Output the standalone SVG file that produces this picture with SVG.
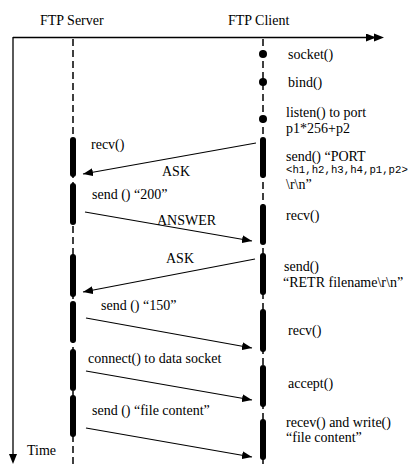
<svg xmlns="http://www.w3.org/2000/svg" width="418" height="470" viewBox="0 0 418 470">
<defs>
<marker id="ah" viewBox="0 0 10 8" refX="10" refY="4" markerWidth="10" markerHeight="8" markerUnits="userSpaceOnUse" orient="auto">
<path d="M0,0 L10,4 L0,8 Z" fill="#000"/>
</marker>
<style>
text{font-family:"Liberation Serif","Times New Roman",serif;font-size:14px;fill:#000;dominant-baseline:central}
.mono{font-family:"Liberation Mono","Courier New",monospace;font-size:10.7px}
.axis{stroke:#000;stroke-width:1.3;fill:none}
.life{stroke:#000;stroke-width:1.5;stroke-dasharray:7 4;fill:none}
.bar{fill:#000}
.msg{stroke:#000;stroke-width:1.1;fill:none;marker-end:url(#ah)}
</style>
</defs>
<rect width="418" height="470" fill="#fff"/>
<g id="axes">
<line class="axis" x1="13" y1="37.5" x2="376" y2="37.5" marker-end="url(#ah)"/>
<line class="axis" x1="13" y1="37" x2="13" y2="455"/>
<path d="M9,454 L13,464 L17,454 Z" fill="#000"/>
<path d="M374,33.5 L384,37.5 L374,41.5 Z" fill="#000"/>
<text x="27" y="450">Time</text>
</g>
<g id="server">
<text x="40" y="20">FTP Server</text>
<line class="life" x1="73" y1="39" x2="73" y2="464"/>
<rect class="bar" x="70" y="137" width="6" height="40" rx="3"/>
<rect class="bar" x="70" y="183" width="6" height="42" rx="3"/>
<rect class="bar" x="70" y="254" width="6" height="43" rx="3"/>
<rect class="bar" x="70" y="301" width="6" height="42" rx="3"/>
<rect class="bar" x="70" y="349" width="6" height="42" rx="3"/>
<rect class="bar" x="70" y="395" width="6" height="42" rx="3"/>
<text x="91" y="144">recv()</text>
<text x="92" y="194">send () “200”</text>
<text x="101" y="305">send () “150”</text>
<text x="88" y="358">connect() to data socket</text>
<text x="92" y="410">send () “file content”</text>
</g>
<g id="client">
<text x="228" y="20">FTP Client</text>
<line class="life" x1="263" y1="39" x2="263" y2="464"/>
<circle cx="263" cy="54" r="4"/>
<circle cx="263" cy="82" r="4"/>
<circle cx="263" cy="119" r="4"/>
<rect class="bar" x="260" y="137" width="6" height="41" rx="3"/>
<rect class="bar" x="260" y="204" width="6" height="41" rx="3"/>
<rect class="bar" x="260" y="253" width="6" height="42" rx="3"/>
<rect class="bar" x="260" y="309" width="6" height="43" rx="3"/>
<rect class="bar" x="260" y="365" width="6" height="42" rx="3"/>
<rect class="bar" x="260" y="419" width="6" height="41" rx="3"/>
<text x="288" y="54">socket()</text>
<text x="288" y="82">bind()</text>
<text x="286" y="112">listen() to port</text>
<text x="286" y="128">p1*256+p2</text>
<text x="286" y="156">send() “PORT</text>
<text class="mono" x="286" y="170">&lt;h1,h2,h3,h4,p1,p2&gt;</text>
<text x="286" y="184">\r\n”</text>
<text x="286" y="215">recv()</text>
<text x="284" y="266">send()</text>
<text x="283" y="282">“RETR filename\r\n”</text>
<text x="288" y="330">recv()</text>
<text x="288" y="383">accept()</text>
<text x="286" y="422">recev() and write()</text>
<text x="286" y="437">“file content”</text>
</g>
<g id="connectors">
<line class="msg" x1="256" y1="143" x2="83" y2="174"/>
<line class="msg" x1="85" y1="212" x2="252" y2="241"/>
<line class="msg" x1="255" y1="259" x2="83" y2="292"/>
<line class="msg" x1="86" y1="318" x2="252" y2="348"/>
<line class="msg" x1="86" y1="371" x2="252" y2="400"/>
<line class="msg" x1="86" y1="428" x2="252" y2="457"/>
<text x="162" y="171">ASK</text>
<text x="157" y="220">ANSWER</text>
<text x="166" y="258">ASK</text>
</g>
</svg>
